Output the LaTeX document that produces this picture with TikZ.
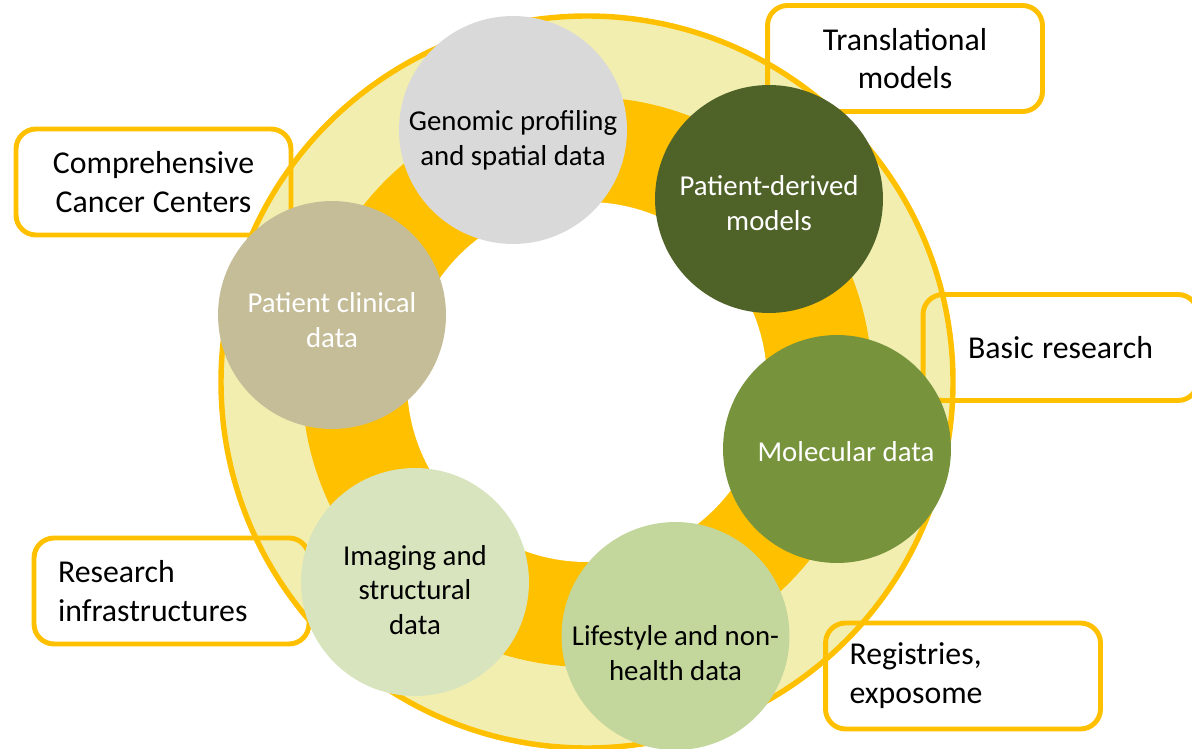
\documentclass[tikz,border=0pt]{standalone}
\usepackage{fontspec}
\setmainfont{Carlito}

\definecolor{gold}{HTML}{FFC000}
\definecolor{paleYellow}{HTML}{F2EEB0}
\definecolor{greyData}{HTML}{D9D9D9}
\definecolor{darkGreen}{HTML}{4F6228}
\definecolor{tanData}{HTML}{C4BD97}
\definecolor{midGreen}{HTML}{77933C}
\definecolor{paleGreen}{HTML}{D7E4BD}
\definecolor{lightGreen}{HTML}{C3D69B}

\begin{document}
\begin{tikzpicture}[x=0.02cm, y=-0.02cm,
					%thick,
					data node/.style={circle, inner sep=0pt, minimum size=4.56cm},
					frame node/.style={draw=gold, line width=2.8pt, rounded corners=0.4cm,
					                   text width=4.54cm, inner xsep=0.48cm, minimum height=2.12cm,
					                   font=\fontsize{18.1}{22.1}\selectfont,
					                   execute at begin node={\spaceskip=0pt\xspaceskip=0pt}},
					every label/.style={align=center, font=\fontsize{16.4}{19.8}\selectfont}]

  \useasboundingbox (0,0) rectangle (1192,749);

  % rings
  \coordinate (O) at (587,382);
  \draw[gold, line width=3.1pt, fill=paleYellow] (O) circle (366);
  \fill[gold] (O) circle (285);
  \fill[white] (O) circle (180);

  % outer labels
  \node[frame node, align=center] (trans) at (905,58.5) {Translational\\models};
  \node[frame node, align=center] (comp) at (153.5,182) {Comprehensive\\Cancer Centers};
  \node[frame node, align=center] (basic) at (1060.5,347.5) {Basic research};
  \node[frame node, align=left] (infra) at (171.5,591) {Research\\infrastructures};
  \node[frame node, align=left] (regis) at (963,676) {Registries,\\exposome};

  % data circles
  \node[data node, fill=greyData,
        label={[yshift=-0.2cm]center:Genomic profiling\\and spatial data}] (genomic) at (513,130) {};
  \node[data node, fill=darkGreen,
        label={[text=white, yshift=-0.08cm]center:Patient-derived\\models}] (derived) at (769,199) {};
  \node[data node, fill=tanData,
        label={[text=white, yshift=-0.1cm]center:Patient clinical\\data}] (clinical) at (332,315) {};
  \node[data node, fill=midGreen,
        label={[text=white, xshift=0.18cm, yshift=-0.06cm]center:Molecular data}] (molecular) at (837,449) {};
  \node[data node, fill=paleGreen,
        label={[yshift=-0.16cm]center:Imaging and\\structural\\data}] (imaging) at (415,582) {};
  \node[data node, fill=lightGreen,
        label={[yshift=-0.34cm]center:Lifestyle and non-\\health data}] (lifestyle) at (675.5,636) {};
\end{tikzpicture}
\end{document}
